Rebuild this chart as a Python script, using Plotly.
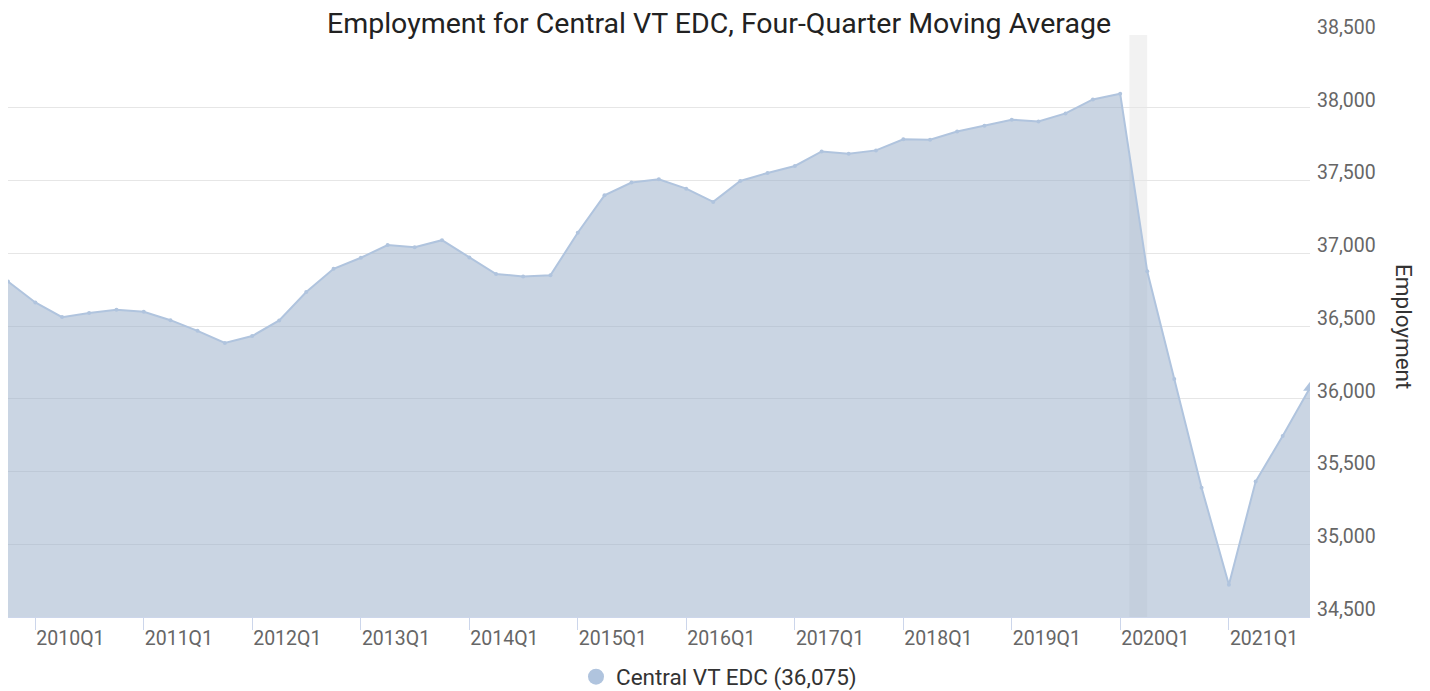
import plotly.graph_objects as go

quarters = [
    "2009Q4",
    "2010Q1", "2010Q2", "2010Q3", "2010Q4",
    "2011Q1", "2011Q2", "2011Q3", "2011Q4",
    "2012Q1", "2012Q2", "2012Q3", "2012Q4",
    "2013Q1", "2013Q2", "2013Q3", "2013Q4",
    "2014Q1", "2014Q2", "2014Q3", "2014Q4",
    "2015Q1", "2015Q2", "2015Q3", "2015Q4",
    "2016Q1", "2016Q2", "2016Q3", "2016Q4",
    "2017Q1", "2017Q2", "2017Q3", "2017Q4",
    "2018Q1", "2018Q2", "2018Q3", "2018Q4",
    "2019Q1", "2019Q2", "2019Q3", "2019Q4",
    "2020Q1", "2020Q2", "2020Q3", "2020Q4",
    "2021Q1", "2021Q2", "2021Q3", "2021Q4",
]
employment = [
    36806,
    36662, 36561, 36589, 36611,
    36598, 36540, 36467, 36383,
    36431, 36538, 36733, 36893,
    36969, 37056, 37042, 37090,
    36971, 36857, 36841, 36848,
    37141, 37398, 37486, 37508,
    37444, 37353, 37497, 37552,
    37600, 37700, 37684, 37707,
    37783, 37780, 37837, 37877,
    37918, 37906, 37961, 38057,
    38096, 36876, 36136, 35389,
    34722, 35431, 35744, 36075,
]
tick_labels = ["2010Q1", "2011Q1", "2012Q1", "2013Q1", "2014Q1", "2015Q1",
               "2016Q1", "2017Q1", "2018Q1", "2019Q1", "2020Q1", "2021Q1"]
y_ticks = [34500, 35000, 35500, 36000, 36500, 37000, 37500, 38000, 38500]
recession = ["2020-02-01", "2020-04-01"]
series_name = "Central VT EDC"


def q_to_date(q):
    year, qn = q.split("Q")
    month = (int(qn) - 1) * 3 + 1
    return f"{year}-{month:02d}-01"


dates = [q_to_date(q) for q in quarters]
tick_dates = [q_to_date(q) for q in tick_labels]

FONT = "Roboto"
LINE = "#b0c4de"
W, H = 1422, 683  # page body has an 8px margin

fig = go.Figure()

fig.add_shape(type="rect", xref="x", yref="paper",
              x0=recession[0], x1=recession[1], y0=0, y1=1,
              fillcolor="#f2f2f2", line_width=0, layer="below")

fig.add_trace(go.Scatter(
    x=dates, y=employment, mode="lines+markers",
    line=dict(color=LINE, width=2),
    marker=dict(size=4, color=LINE),
    fill="tozeroy", fillcolor="rgba(150,172,200,0.5)",
    showlegend=False, hoverinfo="x+y",
))
fig.add_trace(go.Scatter(
    x=[dates[-1]], y=[employment[-1]], mode="markers",
    marker=dict(symbol="triangle-up", size=12, color=LINE),
    showlegend=False, hoverinfo="skip",
))
fig.add_trace(go.Scatter(
    x=[None], y=[None], mode="markers",
    marker=dict(symbol="circle", size=20, color=LINE),
    name=f"{series_name} ({employment[-1]:,})",
))

fig.update_layout(
    width=W, height=H,
    margin=dict(l=0, r=120, t=27, b=74),
    paper_bgcolor="white", plot_bgcolor="white",
    font=dict(family=FONT, color="#666666", size=19.5),
    title=dict(text="Employment for Central VT EDC, Four-Quarter Moving Average",
               x=0.5, xanchor="center", y=1 - 15 / H, yanchor="middle",
               font=dict(family=FONT, size=28.5, color="#222222")),
    showlegend=True,
    legend=dict(orientation="h", x=0.5, xanchor="center", xref="container",
                y=(H - 669) / H, yanchor="middle", yref="container",
                font=dict(family=FONT, size=22.5, color="#333333")),
    hovermode="closest",
)

fig.update_xaxes(
    type="date",
    range=[dates[0], dates[-1]],
    tickvals=tick_dates, ticktext=tick_labels,
    ticks="outside", ticklen=12, tickcolor="#ccd6eb", tickwidth=1,
    ticklabelposition="outside right", ticklabelstandoff=4,
    showgrid=False, showline=True, linecolor="#ccd6eb", linewidth=1,
    tickfont=dict(family=FONT, size=19.5, color="#666666"),
    zeroline=False,
)
fig.update_yaxes(
    side="right", range=[y_ticks[0], y_ticks[-1]],
    tickvals=y_ticks, ticktext=[f"{v:,}" for v in y_ticks],
    ticklabelposition="outside", ticklabelshift=-8, ticklabelstandoff=6,
    showgrid=True, gridcolor="#e6e6e6", gridwidth=1,
    zeroline=False, showline=False, ticks="",
    tickfont=dict(family=FONT, size=19.5, color="#666666"),
)
fig.add_annotation(
    text="Employment", xref="paper", yref="paper", x=1.0, y=0.5,
    xanchor="center", yanchor="middle", xshift=94, textangle=90,
    showarrow=False, font=dict(family=FONT, size=22.5, color="#333333"),
)

fig.write_html("out.html")
